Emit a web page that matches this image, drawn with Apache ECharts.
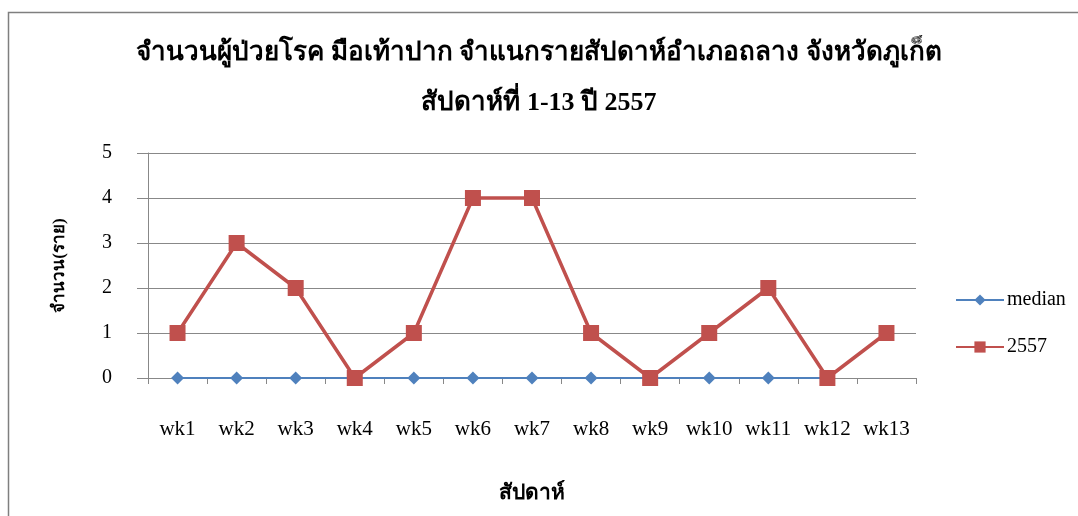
<!DOCTYPE html>
<html><head><meta charset="utf-8">
<script src="https://cdn.jsdelivr.net/npm/echarts@6/dist/echarts.min.js"></script>
<style>html,body{margin:0;padding:0;background:#fff}#c{width:1078px;height:516px}</style>
</head><body><div id="c"></div>
<script>
const categories = ['wk1','wk2','wk3','wk4','wk5','wk6','wk7','wk8','wk9','wk10','wk11','wk12','wk13'];
const medianValues = [0,0,0,0,0,0,0,0,0,0,0,0,null];
const y2557Values = [1,3,2,0,1,4,4,1,0,1,2,0,1];
const yTicks = [0,1,2,3,4,5];
const titleText = 'จำนวนผู้ป่วยโรค มือเท้าปาก จำแนกรายสัปดาห์อำเภอถลาง จังหวัดภูเก็ต\nสัปดาห์ที่ 1-13 ปี 2557';

const chart = echarts.init(document.getElementById('c'));
const serif = '"Liberation Serif", "Times New Roman", serif';
chart.setOption({
  animation: false,
  backgroundColor: '#fff',
  graphic: [{type:'rect', shape:{x:8.5,y:12.5,width:1080,height:520}, style:{fill:'none', stroke:'#7f7f7f', lineWidth:1.5}}],
  title: {
    text: titleText, left: 'center', top: 23,
    textStyle: {fontFamily: serif, fontWeight: 'bold', fontSize: 26, color: '#000', lineHeight: 50}
  },
  legend: {
    orient: 'vertical', left: 950, top: 285, itemGap: 27, itemWidth: 48, itemHeight: 14,
    textStyle: {fontFamily: serif, fontSize: 20, color: '#000', padding: [0,0,0,-2]},
    data: ['median','2557']
  },
  grid: {left: 148, right: 162, top: 153, bottom: 138},
  xAxis: {
    type: 'category', data: categories, boundaryGap: true,
    name: 'สัปดาห์', nameLocation: 'middle', nameGap: 105,
    nameTextStyle: {fontFamily: serif, fontSize: 21, fontWeight: 'bold', color: '#000'},
    axisLine: {lineStyle: {color: '#888', width: 1}},
    axisTick: {show: true, interval: 0, length: 6, lineStyle: {color: '#888'}},
    axisLabel: {margin: 41, fontFamily: serif, fontSize: 21, color: '#000', interval: 0}
  },
  yAxis: {
    type: 'value', min: 0, max: 5, interval: 1,
    name: 'จำนวน(ราย)', nameLocation: 'middle', nameGap: 80, nameRotate: 90,
    nameTextStyle: {fontFamily: serif, fontSize: 17, fontWeight: 'bold', color: '#000'},
    axisLine: {show: true, lineStyle: {color: '#888'}},
    axisTick: {show: true, length: 11, lineStyle: {color: '#888'}},
    axisLabel: {margin: 36, fontFamily: serif, fontSize: 20, color: '#000',
      formatter: v => yTicks.includes(v) ? String(v) : ''},
    splitLine: {show: true, lineStyle: {color: '#888', width: 1}}
  },
  series: [
    {name: 'median', type: 'line', data: medianValues, symbol: 'diamond', symbolSize: 13,
     itemStyle: {color: '#4F81BD'}, lineStyle: {color: '#4F81BD', width: 2}, z: 2},
    {name: '2557', type: 'line', data: y2557Values, symbol: 'rect', symbolSize: 16,
     itemStyle: {color: '#C0504D'}, lineStyle: {color: '#C0504D', width: 3.5}, z: 3}
  ]
});
</script></body></html>
